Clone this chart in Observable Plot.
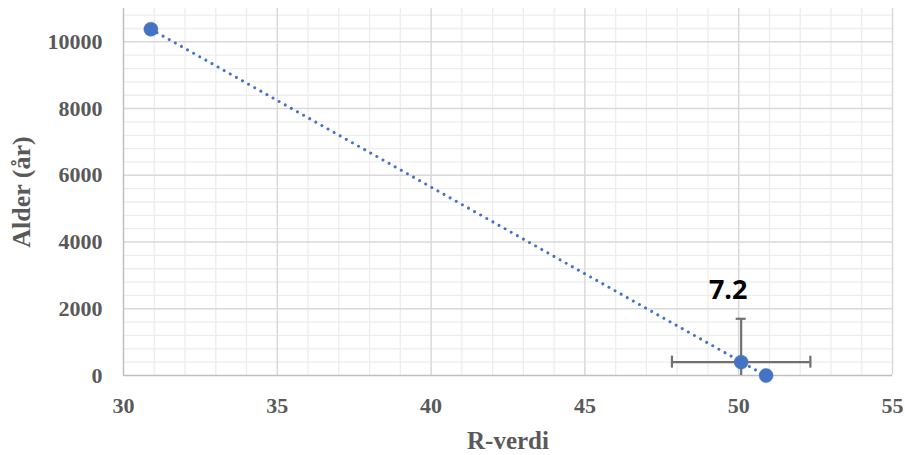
<!DOCTYPE html>
<html>
<head>
<meta charset="utf-8">
<script src="https://cdn.jsdelivr.net/npm/d3@7"></script>
<script src="https://cdn.jsdelivr.net/npm/@observablehq/plot@0.6"></script>
<style>
  html, body { margin: 0; padding: 0; background: #fff; }
</style>
</head>
<body>
<div id="chart"></div>
<script>
// Data
const rVerdi = [30.89, 50.08, 50.89];
const alder = [10380, 400, 0];
const xErr = [null, 2.25, null];
const yErr = [null, 1300, null];
const pointLabels = [null, "7.2", null];

// Axis ticks and labels
const xTicks = [30, 35, 40, 45, 50, 55];
const yTicks = [0, 2000, 4000, 6000, 8000, 10000];
const xTitle = "R-verdi";
const yTitle = "Alder (år)";

const data = rVerdi.map((x, i) => ({x, y: alder[i], ex: xErr[i], ey: yErr[i], label: pointLabels[i]}));
const withErr = data.filter(d => d.ex != null);

const xMinor = d3.range(30, 55.01, 1).filter(v => v % 5 !== 0);
const yMinor = d3.range(0, 10801, 400).filter(v => v % 2000 !== 0);
const xMajor = xTicks.filter(v => v !== 30);
const yMajor = yTicks.filter(v => v !== 0);

const blue = "#4472C4";
const errColor = "#707070";
const serif = "'Liberation Serif', 'Times New Roman', serif";

const chart = Plot.plot({
  width: 905,
  height: 455,
  marginLeft: 123,
  marginRight: 13,
  marginTop: 8,
  marginBottom: 80,
  style: {background: "#fff", fontFamily: serif, fontWeight: "bold", color: "#595959"},
  x: {domain: [30, 55]},
  y: {domain: [0, 11000]},
  marks: [
    Plot.ruleX(xMinor, {stroke: "#ededed", strokeWidth: 1.3}),
    Plot.ruleY(yMinor, {stroke: "#ededed", strokeWidth: 1.3}),
    Plot.ruleX(xMajor, {stroke: "#d9d9d9", strokeWidth: 1.5}),
    Plot.ruleY(yMajor, {stroke: "#d9d9d9", strokeWidth: 1.5}),
    Plot.ruleX([30], {stroke: "#bfbfbf", strokeWidth: 1.5}),
    Plot.ruleY([0], {stroke: "#bfbfbf", strokeWidth: 1.5}),
    Plot.axisX({ticks: xTicks, tickSize: 0, tickPadding: 22, fontSize: 22, fontFamily: serif, fontWeight: "bold", fill: "#595959", label: null}),
    Plot.axisY({ticks: yTicks, tickSize: 0, tickPadding: 21, fontSize: 22, fontFamily: serif, fontWeight: "bold", fill: "#595959", tickFormat: d => String(d), label: null}),
    Plot.text([xTitle], {frameAnchor: "bottom", dy: 65, lineAnchor: "middle", textAnchor: "middle", fontSize: 25, fontFamily: serif, fontWeight: "bold", fill: "#595959"}),
    Plot.text([yTitle], {frameAnchor: "left", dx: -102, rotate: -90, textAnchor: "middle", lineAnchor: "middle", fontSize: 26, fontFamily: serif, fontWeight: "bold", fill: "#595959"}),
    // error bars
    Plot.ruleY(withErr, {y: "y", x1: d => d.x - d.ex, x2: d => d.x + d.ex, stroke: errColor, strokeWidth: 2.2}),
    Plot.ruleX(withErr, {x: "x", y1: d => d.y - d.ey, y2: d => d.y + d.ey, stroke: errColor, strokeWidth: 2.2, clip: true}),
    Plot.ruleX(withErr, {x: d => d.x - d.ex, y1: "y", y2: "y", insetTop: -6, insetBottom: -6, stroke: errColor, strokeWidth: 2.2}),
    Plot.ruleX(withErr, {x: d => d.x + d.ex, y1: "y", y2: "y", insetTop: -6, insetBottom: -6, stroke: errColor, strokeWidth: 2.2}),
    Plot.ruleY(withErr, {y: d => d.y + d.ey, x1: "x", x2: "x", insetLeft: -5, insetRight: -5, stroke: errColor, strokeWidth: 2.2, clip: true}),
    // trendline
    Plot.linearRegressionY(data, {x: "x", y: "y", ci: 0, stroke: blue, strokeWidth: 3, strokeDasharray: "0.01 7", strokeLinecap: "round"}),
    // points
    Plot.dot(data, {x: "x", y: "y", r: 7, fill: blue, stroke: blue, strokeWidth: 0.5}),
    // data label
    Plot.text(data.filter(d => d.label), {x: "x", y: "y", text: "label", dx: -13, dy: -72, fontSize: 27, fontFamily: "'Open Sans', sans-serif", fontWeight: "bold", fill: "#000"})
  ]
});

document.getElementById("chart").appendChild(chart);
</script>
</body>
</html>
